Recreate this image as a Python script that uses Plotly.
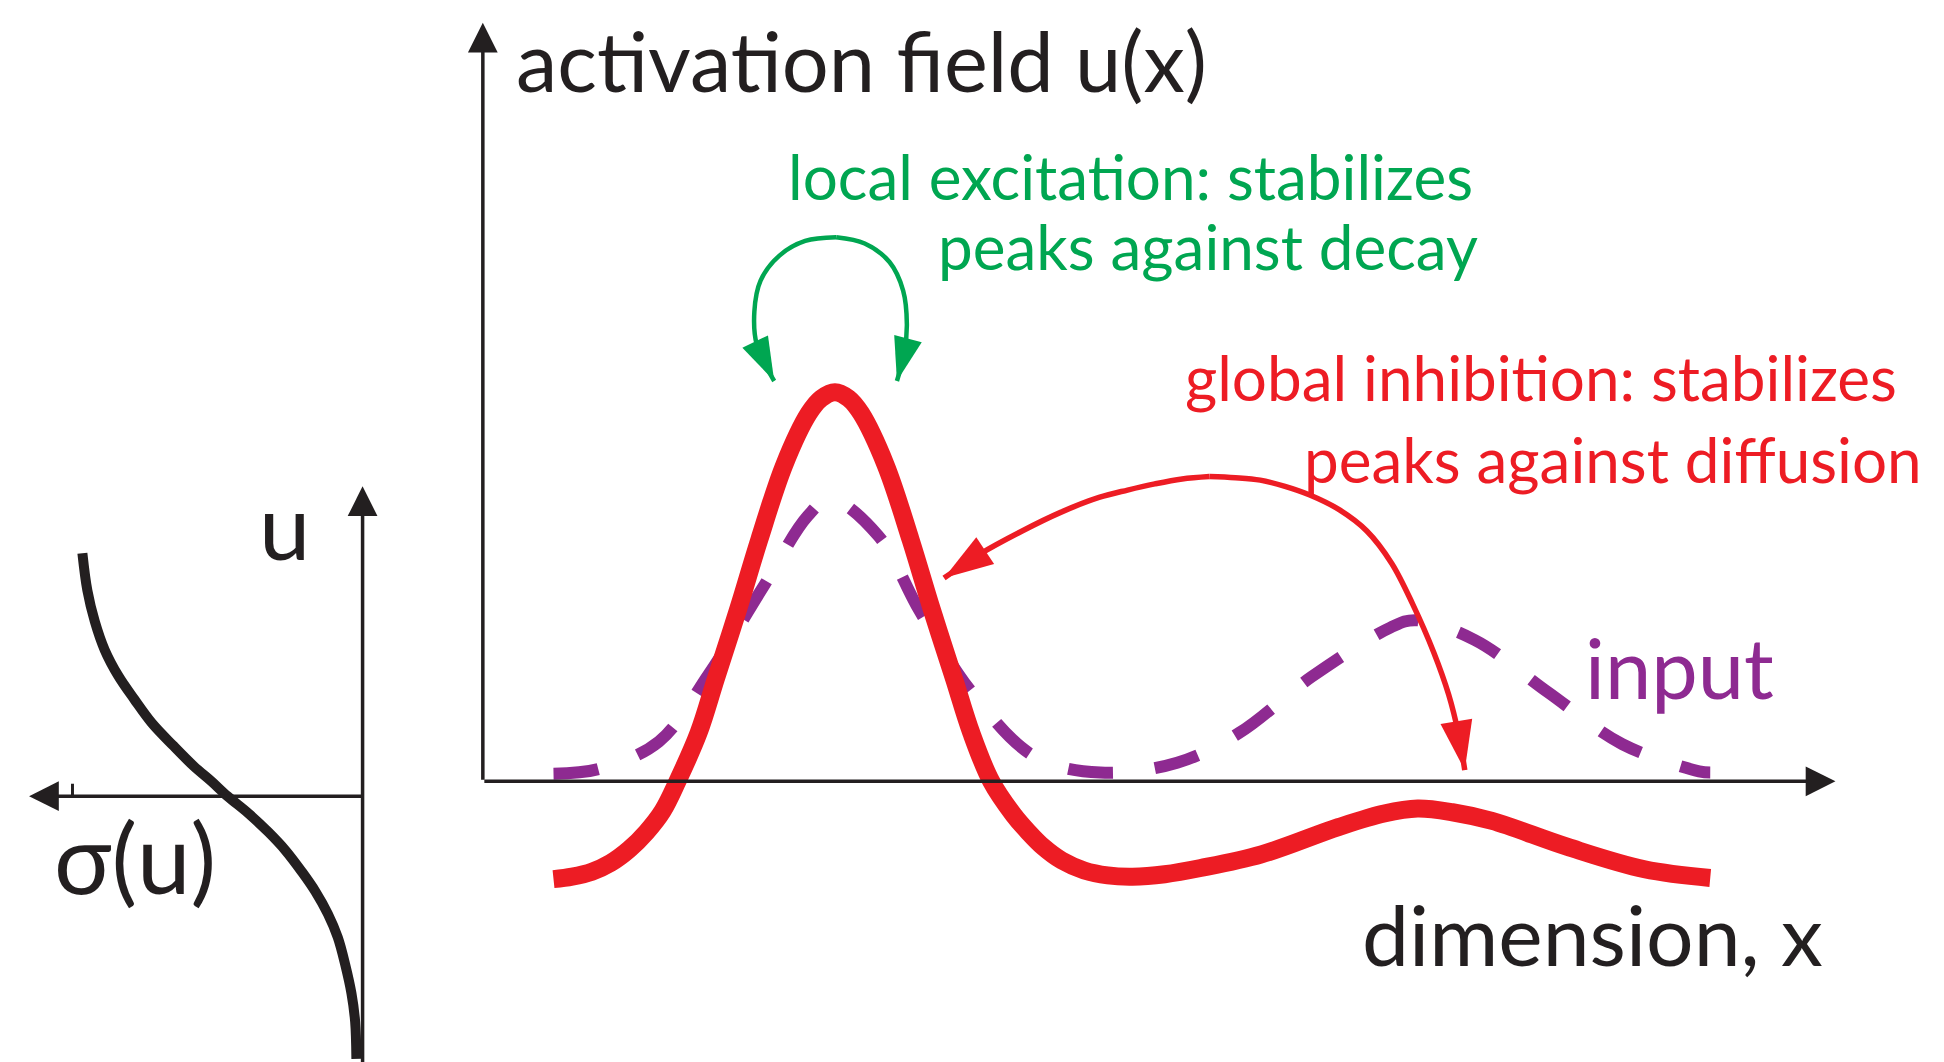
import plotly.graph_objects as go

# --- activation field u(x): thick red curve ---
field_x = [0.57, 0.72, 0.88, 1.03, 1.18, 1.32, 1.45, 1.57, 1.74, 1.88, 2.06, 2.23, 2.43,
           2.63, 2.73, 2.84, 2.95, 3.05, 3.25, 3.45, 3.62, 3.80, 3.94, 4.10, 4.28, 4.40,
           4.52, 4.67, 4.85, 5.04, 5.24, 5.50, 5.79, 6.28, 6.90, 7.27, 7.54, 7.82, 8.14,
           8.75, 9.37, 9.90]
field_u = [-0.79, -0.77, -0.73, -0.66, -0.55, -0.41, -0.24, 0.00, 0.39, 0.83, 1.39, 1.95,
           2.55, 2.97, 3.09, 3.14, 3.09, 2.97, 2.55, 1.95, 1.39, 0.83, 0.39, 0.00, -0.27,
           -0.41, -0.53, -0.64, -0.72, -0.76, -0.77, -0.75, -0.70, -0.59, -0.37, -0.26,
           -0.22, -0.25, -0.32, -0.53, -0.71, -0.78]

# --- input: dashed purple curve ---
input_x = [0.57, 0.94, 1.42, 1.82, 2.25, 2.62, 2.80, 3.19, 3.52, 3.95, 4.45, 4.98, 5.60,
           6.10, 6.68, 7.32, 7.52, 8.00, 8.59, 9.19, 9.81, 9.90]
input_u = [0.06, 0.10, 0.32, 0.86, 1.55, 2.14, 2.28, 1.98, 1.38, 0.71, 0.20, 0.07, 0.15,
           0.39, 0.84, 1.24, 1.30, 1.14, 0.72, 0.30, 0.08, 0.07]

# --- sigmoid sigma(u), plotted with sigma pointing left ---
sig_s = [2.26, 2.22, 2.16, 2.08, 1.97, 1.84, 1.70, 1.53, 1.36, 1.22, 1.09, 0.92, 0.76,
         0.62, 0.49, 0.38, 0.28, 0.20, 0.14, 0.09, 0.06, 0.05]
sig_u = [1.96, 1.66, 1.41, 1.18, 0.97, 0.78, 0.59, 0.41, 0.24, 0.12, 0.00, -0.14, -0.29,
         -0.44, -0.61, -0.77, -0.95, -1.14, -1.36, -1.59, -1.82, -2.12]

# --- local excitation arc (green), two halves from the top ---
exc_left_x = [2.85, 2.60, 2.39, 2.24, 2.19, 2.21, 2.35]
exc_left_u = [4.39, 4.36, 4.24, 4.04, 3.79, 3.52, 3.23]
exc_right_x = [2.85, 3.08, 3.28, 3.39, 3.42, 3.40, 3.34]
exc_right_u = [4.39, 4.34, 4.19, 3.96, 3.69, 3.46, 3.23]

# --- global inhibition arc (red), two halves from the top ---
inh_left_x = [5.86, 5.64, 5.42, 5.20, 4.97, 4.66, 4.35, 4.02, 3.72]
inh_left_u = [2.46, 2.44, 2.40, 2.35, 2.29, 2.17, 2.02, 1.84, 1.64]
inh_right_x = [5.86, 6.07, 6.27, 6.47, 6.67, 6.91, 7.13, 7.33, 7.50, 7.67, 7.79, 7.87, 7.92]
inh_right_u = [2.46, 2.45, 2.43, 2.38, 2.31, 2.19, 2.02, 1.76, 1.43, 1.04, 0.70, 0.38, 0.09]

# axis extents
field_x_tip, field_u_tip = 10.91, 6.12
sig_s_tip, sig_u_tip, sig_u_bottom = 2.69, 2.50, -2.30
sig_tick = 2.34

BLACK = '#231F20'
RED = '#ED1C24'
GREEN = '#00A651'
PURPLE = '#8E2A91'
FONT = 'Lato'

fig = go.Figure()

fig.add_trace(go.Scatter(x=input_x, y=input_u, mode='lines', line_shape='spline',
                         line=dict(color=PURPLE, width=12, dash='45px,42px')))
fig.add_trace(go.Scatter(x=field_x, y=field_u, mode='lines',
                         line=dict(color=RED, width=18, shape='spline', smoothing=1)))


def arc(xs, ys, color, width, head):
    # the 'arrow' symbol has its tip on the point, so the last point is the tip
    sizes = [0] * (len(xs) - 1) + [head]
    fig.add_trace(go.Scatter(
        x=xs, y=ys, mode='lines+markers',
        line=dict(color=color, width=width, shape='spline', smoothing=1),
        marker=dict(symbol='arrow', size=sizes, color=color, opacity=1,
                    angleref='previous', line=dict(width=0)),
    ))


arc(exc_left_x, exc_left_u, GREEN, 4.5, 46)
arc(exc_right_x, exc_right_u, GREEN, 4.5, 46)
arc(inh_left_x, inh_left_u, RED, 5.5, 52)
arc(inh_right_x, inh_right_u, RED, 5.5, 52)

# sigmoid panel
fig.add_trace(go.Scatter(x=sig_s, y=sig_u, xaxis='x2', yaxis='y2', mode='lines',
                         line=dict(color=BLACK, width=10, shape='spline', smoothing=1)))
fig.add_trace(go.Scatter(x=[sig_tick, sig_tick], y=[0, 0.10], xaxis='x2', yaxis='y2',
                         mode='lines', line=dict(color=BLACK, width=3)))

# axis arrows
arrows = [
    dict(x=0, y=field_u_tip, ax=0, ay=0, xref='x', yref='y', axref='x', ayref='y'),
    dict(x=field_x_tip, y=0, ax=0, ay=0, xref='x', yref='y', axref='x', ayref='y'),
    dict(x=0, y=sig_u_tip, ax=0, ay=sig_u_bottom, xref='x2', yref='y2', axref='x2', ayref='y2'),
    dict(x=sig_s_tip, y=0, ax=0, ay=0, xref='x2', yref='y2', axref='x2', ayref='y2'),
]
for a in arrows:
    fig.add_annotation(text='', showarrow=True, arrowhead=2, arrowsize=1.7,
                       arrowwidth=3.5, arrowcolor=BLACK, standoff=0, **a)

W, H = 1944, 1062


def label(text, px, py, color, size, xanchor='left', yanchor='middle'):
    fig.add_annotation(text=text, x=px / W, y=1 - py / H, xref='paper', yref='paper',
                       xanchor=xanchor, yanchor=yanchor, showarrow=False,
                       font=dict(family=FONT, size=size, color=color))


label('activation field u(x)', 506, 0, BLACK, 83, yanchor='top')
label('local excitation: stabilizes', 1467, 168, GREEN, 62, 'right')
label('peaks against decay', 1472, 238, GREEN, 62, 'right')
label('global inhibition: stabilizes', 1891, 369, RED, 62, 'right')
label('peaks against diffusion', 1916, 451, RED, 62, 'right')
label('input', 1575, 659, PURPLE, 83)
label('dimension, x', 1352, 925, BLACK, 84)
label('u', 249, 516, BLACK, 92)
label('σ(u)', 44, 848, BLACK, 96)

hidden = dict(visible=False, showgrid=False, zeroline=False, fixedrange=True)
fig.update_layout(
    width=W, height=H,
    margin=dict(l=0, r=0, t=0, b=0),
    paper_bgcolor='white', plot_bgcolor='white',
    showlegend=False,
    xaxis=dict(range=[-3.83, 11.85], domain=[0, 1], **hidden),
    yaxis=dict(range=[-2.33, 6.24], domain=[0, 1], **hidden),
    xaxis2=dict(range=[2.86, -12.82], overlaying='x', **hidden),
    yaxis2=dict(range=[-2.21, 6.36], overlaying='y', **hidden),
)

fig.write_html('out.html')
